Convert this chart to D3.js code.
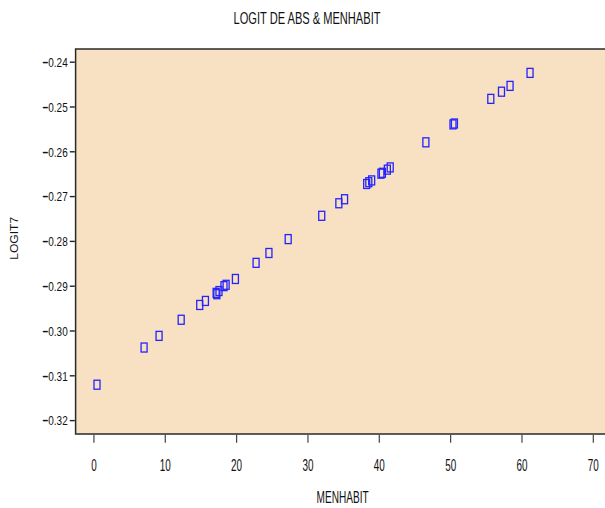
<!DOCTYPE html>
<html>
<head>
<meta charset="utf-8">
<script src="https://cdn.jsdelivr.net/npm/d3@7"></script>
<style>
    body { margin: 0; background: #ffffff; }
    text { font-family: "Liberation Sans", Arial, sans-serif; fill: #111; }
</style>
</head>
<body>
<div id="chart"></div>
<script>
// values
var menhabit = [0.5, 7.1, 9.2, 12.3, 14.9, 15.7, 17.2, 17.3, 17.6, 18.3, 18.6, 19.9,
                22.8, 24.6, 27.3, 32.0, 34.4, 35.2, 38.3, 38.6, 39.0, 40.3, 40.5, 41.2,
                41.6, 46.6, 50.4, 50.6, 55.7, 57.2, 58.4, 61.2];
var logit7 = [-0.3121, -0.3038, -0.3012, -0.2976, -0.2943, -0.2934, -0.2916, -0.2919,
              -0.2912, -0.2901, -0.2898, -0.2885, -0.2849, -0.2827, -0.2796, -0.2744,
              -0.2716, -0.2707, -0.2673, -0.2669, -0.2665, -0.2650, -0.2648, -0.2641,
              -0.2636, -0.2580, -0.2540, -0.2538, -0.2483, -0.2467, -0.2454, -0.2425];
var xTicks = [0, 10, 20, 30, 40, 50, 60, 70];
var yTicks = [-0.24, -0.25, -0.26, -0.27, -0.28, -0.29, -0.30, -0.31, -0.32];

function draw()
{
    var width = 605, height = 508;
    var plotLeft = 75.6, plotTop = 49, plotBottom = 434;

    var svg = d3.select('#chart').append('svg')
        .attr('width', width)
        .attr('height', height);

    var x = d3.scaleLinear().domain([-2.5, 72.5]).range([plotLeft, plotLeft + 75 * 7.134]);
    var y = d3.scaleLinear().domain([-0.3231, -0.23717]).range([plotBottom, plotTop]);

    // plot area
    svg.append('rect')
        .attr('x', plotLeft).attr('y', plotTop)
        .attr('width', x(72.5) - plotLeft).attr('height', plotBottom - plotTop)
        .attr('fill', '#f8e0c2')
        .attr('stroke', '#2a2a2a')
        .attr('stroke-width', 1.5);

    // x axis
    var gx = svg.append('g')
        .attr('transform', 'translate(0,' + (plotBottom + 0.8) + ')')
        .call(d3.axisBottom(x).tickValues(xTicks).tickSize(8).tickFormat(d3.format('d')));
    gx.select('.domain').remove();
    gx.selectAll('line').attr('stroke', '#444').attr('stroke-width', 1.2);
    gx.selectAll('text')
        .attr('y', 36).attr('dy', 0)
        .attr('fill', '#111')
        .style('font-size', '16.5px')
        .attr('transform', 'scale(0.6,1)');

    // y axis, with the heavy minus sign of the original
    var gy = svg.append('g')
        .attr('transform', 'translate(' + (plotLeft - 0.8) + ',0)')
        .call(d3.axisLeft(y).tickValues(yTicks).tickSize(5).tickFormat(d3.format('.2f')));
    gy.select('.domain').remove();
    gy.selectAll('line').attr('stroke', '#222').attr('stroke-width', 1.4);
    gy.selectAll('text')
        .attr('x', -9.5)
        .attr('dy', '0.36em')
        .attr('fill', '#111')
        .style('font-size', '13.3px')
        .attr('transform', 'scale(0.75,1)')
        .each(function(d)
        {
            var t = d3.select(this);
            t.text(null);
            t.append('tspan').style('font-weight', 'bold').text('\u2212');
            t.append('tspan').text(d3.format('.2f')(Math.abs(d)));
        });

    // points
    svg.append('g').selectAll('rect')
        .data(menhabit)
        .enter().append('rect')
        .attr('x', function(d) { return x(d) - 3; })
        .attr('y', function(d, i) { return y(logit7[i]) - 4.5; })
        .attr('width', 6)
        .attr('height', 9)
        .attr('fill', 'none')
        .attr('stroke', '#2424ff')
        .attr('stroke-width', 1.3);

    // titles
    svg.append('text')
        .attr('x', 307).attr('y', 24)
        .attr('text-anchor', 'middle')
        .attr('textLength', 147).attr('lengthAdjust', 'spacingAndGlyphs')
        .style('font-size', '16.5px')
        .text('LOGIT DE ABS & MENHABIT');

    svg.append('text')
        .attr('x', 342.6).attr('y', 503)
        .attr('text-anchor', 'middle')
        .attr('textLength', 52).attr('lengthAdjust', 'spacingAndGlyphs')
        .style('font-size', '17px')
        .text('MENHABIT');

    svg.append('text')
        .attr('transform', 'translate(18.4,238.3) rotate(-90)')
        .attr('text-anchor', 'middle')
        .attr('textLength', 43).attr('lengthAdjust', 'spacingAndGlyphs')
        .style('font-size', '11.8px')
        .text('LOGIT7');
}
draw();
</script>
</body>
</html>
